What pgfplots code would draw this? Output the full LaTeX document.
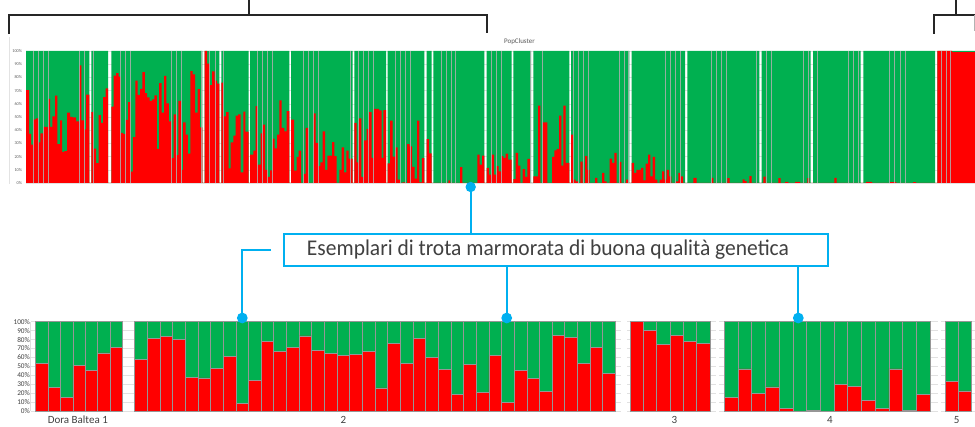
\documentclass[border=0pt]{standalone}
\usepackage{pgfplots}
\pgfplotsset{compat=1.18}
\usepackage{pgfplotstable}
\usepackage{graphicx}
\usepackage{fontspec}
\setmainfont{Carlito}
\definecolor{xgreen}{RGB}{0,176,80}
\definecolor{xred}{RGB}{255,0,0}
\definecolor{xblue}{RGB}{0,176,240}
\definecolor{xsep}{RGB}{175,175,175}
\definecolor{xbar}{RGB}{150,150,150}
\definecolor{xgrid}{RGB}{225,225,225}
\definecolor{xtxt}{RGB}{64,64,64}
\definecolor{xlab}{RGB}{89,89,89}
\definecolor{xbrk}{RGB}{38,38,38}

\pgfplotstableread{
i r g
0 53.7 46.3
1 26.0 74.0
2 15.0 85.0
3 51.5 48.5
4 45.5 54.5
5 65.0 35.0
6 71.6 28.4
}\tabA
\pgfplotstableread{
i r g
0 57.8 42.2
1 81.3 18.7
2 83.2 16.8
3 80.6 19.4
4 38.0 62.0
5 37.0 63.0
6 47.8 52.2
7 61.2 38.8
8 8.6 91.4
9 34.7 65.3
10 77.6 22.4
11 66.8 33.2
12 71.3 28.7
13 84.0 16.0
14 68.0 32.0
15 64.8 35.2
16 62.2 37.8
17 63.3 36.7
18 66.3 33.7
19 25.9 74.1
20 75.6 24.4
21 53.3 46.7
22 81.1 18.9
23 60.4 39.6
24 46.7 53.3
25 18.9 81.1
26 51.9 48.1
27 21.1 78.9
28 62.2 37.8
29 10.0 90.0
30 45.9 54.1
31 36.7 63.3
32 22.2 77.8
33 84.8 15.2
34 82.2 17.8
35 53.3 46.7
36 71.1 28.9
37 42.2 57.8
}\tabB
\pgfplotstableread{
i r g
0 100 0
1 90.4 9.6
2 74.2 25.8
3 84.5 15.5
4 77.5 22.5
5 75.3 24.7
}\tabC
\pgfplotstableread{
i r g
0 14.8 85.2
1 47.2 52.8
2 19.9 80.1
3 26.9 73.1
4 2.6 97.4
5 0 100
6 0.5 99.5
7 0 100
8 29.5 70.5
9 27.7 72.3
10 12.2 87.8
11 3.3 96.7
12 47.2 52.8
13 0.5 99.5
14 18.8 81.2
}\tabD
\pgfplotstableread{
i r g
0 33.2 66.8
1 22.5 77.5
}\tabE

\pgfplotsset{panel/.style={scale only axis, height=89.3pt, ymin=0, ymax=100,
  ybar stacked, bar width=1, xtick=\empty, ytick={0,10,...,100}, yticklabels={},
  ymajorgrids, grid style={draw=xgrid, line width=0.4pt},
  axis line style={draw=none}, major tick length=0pt, anchor=south west,
  /pgf/number format/assume math mode=true}}
\pgfplotsset{rbar/.style={fill=xred, draw=xbar, line width=0.7pt},
  gbar/.style={fill=xgreen, draw=xbar, line width=0.7pt}}

\begin{document}
\begin{tikzpicture}

% ---------- top PopCluster chart ----------
\begin{axis}[at={(26pt,243pt)}, anchor=south west, scale only axis,
  width=949pt, height=132pt, xmin=26, xmax=975, ymin=0, ymax=100,
  axis line style={draw=none}, major tick length=0pt, xtick=\empty,
  ytick={0,10,...,100}, yticklabel={\pgfmathprintnumber{\tick}\%},
  /pgf/number format/assume math mode=true,
  yticklabel style={font=\fontsize{4.3}{5}\selectfont, text=xlab, inner sep=0pt, xshift=-3.8pt},
  ymajorgrids, grid style={draw=xgrid, line width=0.3pt},
  title={PopCluster}, title style={font=\fontsize{7}{8}\selectfont, text=xlab, at={(0.52,1)}, yshift=-3pt}]
\addplot[const plot, fill=xgreen, draw=none] coordinates {(26,100)(89.3,0)(91.3,100)(108,0)(111.3,100)(202.3,0)(204.7,100)(219.4,0)(221.3,100)(248.7,0)(250,100)(289.3,0)(291,100)(352.7,0)(354.3,100)(386,0)(387.7,100)(424.3,0)(426.7,100)(431.7,0)(433.3,100)(484.3,0)(486.7,100)(511.7,0)(513.3,100)(531,0)(533.3,100)(569.3,0)(571,100)(629.3,0)(631.7,100)(685,0)(687.3,100)(759.3,0)(761.7,100)(810.7,0)(813,100)(860.7,0)(863.3,100)(935,0)(937.3,100)(975,100)} \closedcycle;
\addplot[const plot, fill=xred, draw=none] coordinates {
(26,70.3)(29,37.3)(31,29)(33,48.2)(36,49)(38,30.7)(40.3,37.6)(43.3,42.6)(48,63.7)(50,42.6)(52.3,50.5)(55,66.2)(57.3,29.4)(60,47.5)(62,23.6)(64.3,24.1)(67,53.3)(70,50)(72.7,49.7)(76,46.7)(79.3,89.1)(81.3,47.5)(84,40.6)(86,67)(89.3,0)
(91.3,53.7)(93.7,26)(96.1,15)(98.5,51.5)(100.8,45.5)(103.2,65)(105.6,71.6)(108,0)
(111.3,57.8)(113.7,81.3)(116.1,83.2)(118.5,80.6)(120.9,38)(123.3,37)(125.7,47.8)(128.1,61.2)(130.5,8.6)(132.9,34.7)(135.3,77.6)(137.6,66.8)(140,71.3)(142.4,84)(144.8,68)(147.2,64.8)(149.6,62.2)(152,63.3)(154.4,66.3)(156.8,25.9)(159.2,75.6)(161.6,53.3)(164,81.1)(166.4,60.4)(168.8,46.7)(171.2,18.9)(173.6,51.9)(176,21.1)(178.4,62.2)(180.8,10)(183.2,45.9)(185.5,36.7)(187.9,22.2)(190.3,84.8)(192.7,82.2)(195.1,53.3)(197.5,71.1)(199.9,42.2)(202.3,0)
(204.7,100)(207.2,90.4)(209.6,74.2)(212.1,84.5)(214.5,77.5)(217,75.3)(219.4,0)
(221.3,76)(223.3,50.5)(226,53.6)(228.7,11)(230.7,30.7)(233.3,35.8)(235.7,51)(238,52)(240.7,8)(243.3,54)(245.3,39)(248.7,0)
(250,21.5)(253.3,24.6)(255.7,58.2)(257.7,14)(260.7,37.5)(262.7,44.3)(265,10)(267.7,4.6)(270,9.6)(272.3,33.7)(274.7,26.3)(277,36.7)(279.3,62.5)(281.7,41.8)(284.3,39.2)(286.7,54.4)(289.3,0)
(291,48.1)(294,9.4)(296.7,19.7)(298.7,24.6)(301,0)(303.3,7)(305.7,41.8)(308.3,0)(313.3,52.7)(315.7,30.4)(318,12.7)(320.3,15.7)(322.7,39.2)(325,10)(327.3,20.8)(332,30.9)(334.3,20.3)(336.7,0)(339.3,10)(341.7,27)(344,8)(346.3,24.6)(348.7,18.5)(352.7,0)
(354.3,45.6)(356.7,15.7)(359,48.9)(361.3,4.6)(364,32.2)(366.7,41)(369,53.7)(371.7,19)(374,56.2)(379,55)(381.7,19)(383.3,55.2)(386,0)
(387.7,14.8)(390.1,47.2)(392.6,19.9)(395,26.9)(397.5,2.6)(399.9,0)(402.3,0.5)(404.8,0)(407.2,29.5)(409.7,27.7)(412.1,12.2)(414.5,3.3)(417,47.2)(419.4,0.5)(421.9,18.8)(424.3,0)
(426.7,33.2)(429.2,22.5)(431.7,0)
(433.3,0)(448.3,2)(450,0)(460,12)(462.3,0)(477.3,21.5)(479.7,14)(482,20.8)(484.3,0)
(486.7,11.4)(489,6.3)(491.3,21.5)(494,6.3)(496.3,12.7)(498.7,8.9)(501,20.3)(503.3,19)(505.7,22.3)(508,17.7)(511.7,0)
(513.3,3)(515.7,22.8)(518,13.2)(520.3,0)(522.7,10.6)(525,4.6)(527.3,18.2)(530,0)
(533.3,5)(538,58.7)(540.3,0)(542.7,46)(547.3,0)(552,19.7)(554.3,24.8)(556.7,25.8)(559,51)(561.3,13.2)(563.3,58.7)(565.7,15.2)(569.3,0)
(571,36.7)(573.3,2.5)(575.7,1.3)(578,0)(580.3,16.2)(582.7,0)(585,20.3)(587.3,10)(589.7,0)(595,3.8)(597.3,0)(602,7.6)(604.3,1.3)(606.7,0)(609.7,18.5)(612,15.2)(614.3,22.8)(616.7,0)(619,16)(621.3,0)(626,2.5)(628.3,0)
(631.7,15.2)(634,7.6)(636.3,10)(641,11.4)(643.3,2)(645.7,14.7)(648,21.5)(650.3,5)(652.7,19.7)(655,2.5)(657.3,0)(659.7,2.5)(662,8.9)(664.3,2.5)(666.7,10)(669,5)(671.3,0)(676,1.3)(678.3,7.6)(680.7,5)(683,0)
(693.3,3.8)(696.7,0)(711.3,3.8)(713.3,0)(727.3,3.7)(729.7,0)(742.7,2.8)(744.7,1.5)(746.7,0)(749.3,5.3)(751.7,0)
(763.3,4.8)(765.7,0)(778.3,3.6)(780.7,0)(785,0.8)(788.3,0)(795,0.8)(800,0)(807.3,3.6)(809.3,0)
(834.3,3.8)(836.7,0)
(866,0.8)(872,0)(890,0.6)(896,0)(913,0.6)(916,0)
(937.3,100)(952,99.2)(975,99.2)} \closedcycle;
\addplot[ycomb, draw=xsep, line width=0.7pt, opacity=0.85] coordinates {
(33.3,100)(38.3,100)(43.3,100)(48.7,100)(79.3,100)(84.3,100)(93.7,100)
(120.7,100)(125.3,100)(130.7,100)(171.7,100)(176.7,100)(181.7,100)(201.3,100)
(209.3,100)(215,100)(223.3,100)(257.3,100)(262.3,100)(267.3,100)(272.3,100)
(303.3,100)(308.3,100)(313.3,100)(318.3,100)(350,100)
(358.3,100)(363.3,100)(368.3,100)(373.3,100)(395,100)(400,100)(405,100)(410,100)
(441.3,100)(446.3,100)(451.3,100)(455.3,100)(491.7,100)(496.7,100)(501.7,100)
(530,100)(542.7,100)(573.3,100)(578.3,100)(583.3,100)(588.3,100)(619.3,100)(624,100)(628.7,100)
(665.3,100)(670.3,100)(675.3,100)(680.3,100)(711.7,100)(716.7,100)(721.7,100)(726.7,100)(756,100)
(766.7,100)(771.7,100)(803.3,100)(808.3,100)(817.7,100)(848.3,100)(853.3,100)(858.3,100)
(889.3,100)(894.3,100)(900,100)(905,100)(941,100)(946,100)(950.7,100)};
\end{axis}

% ---------- bottom panels ----------
\begin{axis}[panel, at={(30.7pt,15pt)}, width=98pt, xmin=-0.902, xmax=6.983,
  yticklabel={\pgfmathprintnumber{\tick}\%},
  yticklabel style={font=\fontsize{7.3}{8}\selectfont, text=xtxt, inner sep=0pt, xshift=-0.6pt}]
\addplot[rbar] table[x=i,y=r]{\tabA};
\addplot[gbar] table[x=i,y=g]{\tabA};
\end{axis}
\begin{axis}[panel, at={(129pt,15pt)}, width=492.4pt, xmin=-0.95, xmax=37.974]
\addplot[rbar] table[x=i,y=r]{\tabB};
\addplot[gbar] table[x=i,y=g]{\tabB};
\end{axis}
\begin{axis}[panel, at={(627pt,15pt)}, width=89pt, xmin=-0.725, xmax=5.95]
\addplot[rbar] table[x=i,y=r]{\tabC};
\addplot[gbar] table[x=i,y=g]{\tabC};
\end{axis}
\begin{axis}[panel, at={(719.3pt,15pt)}, width=218.7pt, xmin=-0.865, xmax=15.084]
\addplot[rbar] table[x=i,y=r]{\tabD};
\addplot[gbar] table[x=i,y=g]{\tabD};
\end{axis}
\begin{axis}[panel, at={(941pt,15pt)}, width=34pt, xmin=-0.8, xmax=1.74]
\addplot[rbar] table[x=i,y=r]{\tabE};
\addplot[gbar] table[x=i,y=g]{\tabE};
\end{axis}

\begin{scope}[x=1pt,y=1pt]
\draw[gray!25, line width=0.5pt] (30.7,15) -- (30.7,104.3);
\draw[gray!22, line width=0.5pt] (9.3,{426-37}) -- (9.3,{426-184});

% panel labels
\begin{scope}[every node/.style={font=\fontsize{11}{13}\selectfont, text=xtxt, anchor=base, inner sep=0pt}]
\node at (77.8,2) {Dora Baltea 1};
\node at (343.3,2) {2};
\node at (674.3,2) {3};
\node at (830,2) {4};
\node at (956.7,2) {5};
\end{scope}

% brackets
\draw[xbrk, line width=2pt, line join=miter] (9.3,{426-34}) -- (9.3,{426-15.5}) -- (487,{426-15.5}) -- (487,{426-33});
\draw[xbrk, line width=2pt] (248.7,427) -- (248.7,{426-15.5});
\draw[xbrk, line width=2pt, line join=miter] (934.3,{426-34}) -- (934.3,{426-15}) -- (977,{426-15});
\draw[xbrk, line width=2pt] (955.7,427) -- (955.7,{426-15});
\draw[gray!60, line width=1pt] (974.5,{426-15}) -- (974.5,{426-31});

% callout
\draw[xblue, line width=1.8pt] (470.7,{426-187}) -- (470.7,{426-233});
\draw[xblue, line width=1.8pt] (271,{426-250.3}) -- (242.3,{426-250.3}) -- (242.3,{426-318});
\draw[xblue, line width=1.8pt] (506.7,{426-267}) -- (506.7,{426-318});
\draw[xblue, line width=1.8pt] (798.3,{426-267}) -- (798.3,{426-318});
\draw[xblue, line width=2.7pt, fill=white] (284,{426-234}) rectangle (828,{426-266});
\node[text=xtxt, inner sep=0pt] at (548,{426-249.3}) {\resizebox{482pt}{\height}{\fontsize{22.5}{26}\selectfont Esemplari di trota marmorata di buona qualità genetica}};
\fill[xblue] (470.7,{426-187}) circle (5.2);
\fill[xblue] (242.3,{426-318}) circle (5.4);
\fill[xblue] (506.7,{426-318}) circle (5.4);
\fill[xblue] (798.3,{426-318}) circle (5.4);

\pgfresetboundingbox
\path[use as bounding box] (0,0) rectangle (975,426);
\end{scope}
\end{tikzpicture}
\end{document}
